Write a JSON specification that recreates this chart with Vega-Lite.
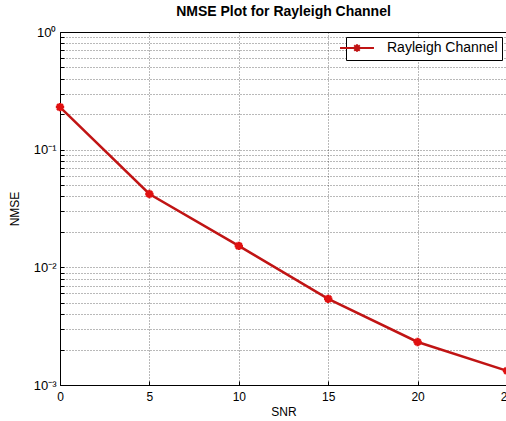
{
  "$schema": "https://vega.github.io/schema/vega-lite/v6.json",
  "width": 447,
  "height": 353,
  "autosize": {"type": "none"},
  "padding": {"left": 60, "top": 32, "right": 0, "bottom": 36},
  "background": "white",
  "title": {"text": "NMSE Plot for Rayleigh Channel", "font": "Liberation Sans", "fontSize": 14, "fontWeight": "bold", "offset": 2, "dy": -5, "anchor": "middle", "color": "#000"},
  "config": {
    "view": {"stroke": "#000", "strokeWidth": 1},
    "axis": {"labelFont": "Liberation Sans", "titleFont": "Liberation Sans", "labelFontSize": 12, "titleFontSize": 12, "titleFontWeight": "normal", "labelColor": "#000", "titleColor": "#000", "domain": false, "ticks": true, "tickSize": -4, "tickColor": "#000", "grid": true, "gridDash": [1, 2], "gridColor": "#000", "gridOpacity": 0.55, "gridWidth": 1}
  },
  "data": {"values": [
    {"snr": 0, "nmse": 0.23, "series": "Rayleigh Channel"},
    {"snr": 5, "nmse": 0.042, "series": "Rayleigh Channel"},
    {"snr": 10, "nmse": 0.0152, "series": "Rayleigh Channel"},
    {"snr": 15, "nmse": 0.0054, "series": "Rayleigh Channel"},
    {"snr": 20, "nmse": 0.00232, "series": "Rayleigh Channel"},
    {"snr": 25, "nmse": 0.00132, "series": "Rayleigh Channel"}
  ]},
  "encoding": {
    "x": {"field": "snr", "type": "quantitative", "title": "SNR", "scale": {"domain": [0, 25], "nice": false},
      "axis": {"values": [0, 5, 10, 15, 20, 25], "labelPadding": 10, "titlePadding": 4, "labelFlush": false}},
    "y": {"field": "nmse", "type": "quantitative", "title": "NMSE", "scale": {"type": "log", "domain": [0.001, 1], "nice": false},
      "axis": {"values": [0.001, 0.002, 0.003, 0.004, 0.005, 0.006, 0.007, 0.008, 0.009, 0.01, 0.02, 0.03, 0.04, 0.05, 0.06, 0.07, 0.08, 0.09, 0.1, 0.2, 0.3, 0.4, 0.5, 0.6, 0.7, 0.8, 0.9, 1],
        "labelExpr": "datum.value == 1 ? '10⁰' : datum.value == 0.1 ? '10⁻¹' : datum.value == 0.01 ? '10⁻²' : datum.value == 0.001 ? '10⁻³' : ''",
        "labelFontSize": 13, "labelPadding": 8, "titlePadding": 12, "labelFlush": false, "labelOverlap": false}}
  },
  "layer": [
    {
      "mark": {"type": "line", "strokeWidth": 2.5, "clip": false},
      "encoding": {
        "color": {"field": "series", "type": "nominal", "scale": {"range": ["#c01414"]},
          "legend": {"title": null, "orient": "top-right", "offset": 5, "strokeColor": "#000", "fillColor": "white", "padding": 4, "labelFont": "Liberation Sans", "labelFontSize": 14, "labelColor": "#000",
            "symbolType": "M-4,0H4M0,-0.9V0.9M-0.65,-0.65L0.65,0.65M-0.65,0.65L0.65,-0.65", "symbolSize": 72, "symbolStrokeWidth": 2, "symbolFillColor": "transparent", "labelOffset": 23, "cornerRadius": 0}}
      }
    },
    {
      "mark": {"type": "point", "shape": "M0,-1V1M-1,0H1M-0.7,-0.7L0.7,0.7M-0.7,0.7L0.7,-0.7", "size": 70, "filled": false, "stroke": "#e01010", "strokeWidth": 2.5, "opacity": 1, "clip": false}
    }
  ]
}
